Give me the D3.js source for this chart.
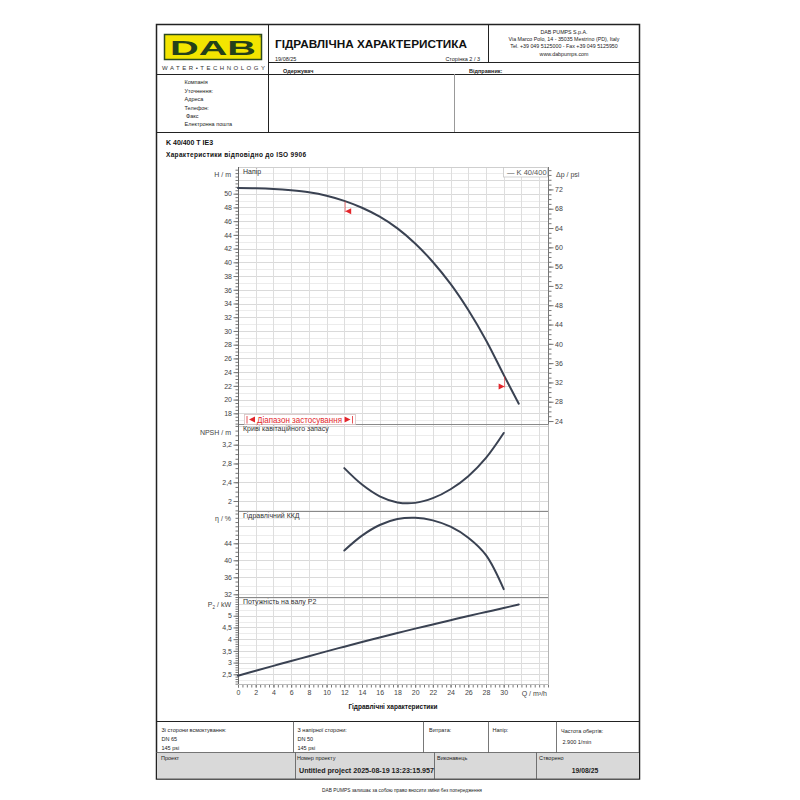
<!DOCTYPE html>
<html>
<head>
<meta charset="utf-8">
<script src="https://cdn.jsdelivr.net/npm/d3@7"></script>
<style>
  body { margin: 0; background: #fff; }
  svg text { font-family: "Liberation Sans", Arial, sans-serif; }
</style>
</head>
<body>
<div id="sheet"></div>
<script>
// ---- data ----
const qTicks = [0, 2, 4, 6, 8, 10, 12, 14, 16, 18, 20, 22, 24, 26, 28, 30];

// head + shaft power, full curve
const qFull = [0, 2, 4, 6, 8, 10, 12, 14, 16, 18, 20, 22, 24, 26, 28, 30, 31.7];
const headM = [50.83, 50.8, 50.7, 50.5, 50.2, 49.7, 48.95, 47.95, 46.65, 44.95, 42.75, 40.05, 36.85, 33.05, 28.65, 23.6, 19.4];
const powerKW = [2.44, 2.65, 2.86, 3.07, 3.27, 3.48, 3.68, 3.88, 4.07, 4.26, 4.45, 4.63, 4.81, 4.99, 5.16, 5.33, 5.48];

// NPSH + efficiency, only inside the application range
const qRange = [12, 14, 16, 18, 20, 22, 24, 26, 28, 30];
const npshM = [2.70, 2.35, 2.10, 1.97, 1.96, 2.06, 2.25, 2.53, 2.92, 3.45];
const effPct = [42.3, 45.8, 48.3, 49.7, 50.0, 49.4, 47.9, 45.3, 41.2, 33.2];

const appRange = [12.1, 30.1];

const headTicks = [18, 20, 22, 24, 26, 28, 30, 32, 34, 36, 38, 40, 42, 44, 46, 48, 50];
const psiTicks = [24, 28, 32, 36, 40, 44, 48, 52, 56, 60, 64, 68, 72];
const npshTicks = [2, 2.4, 2.8, 3.2];
const effTicks = [32, 36, 40, 44];
const powerTicks = [2.5, 3, 3.5, 4, 4.5, 5];

const M_TO_PSI = 1.4223;

const svg = d3.select('#sheet')
  .append('svg')
  .attr('width', 800)
  .attr('height', 800);

svg.append('rect').attr('width', 800).attr('height', 800).attr('fill', '#fff');

function label(g, x, y, str, o = {}) {
  return g.append('text')
    .attr('x', x).attr('y', y)
    .attr('font-size', o.size || 5.5)
    .attr('font-weight', o.bold ? 'bold' : null)
    .attr('text-anchor', o.anchor || 'start')
    .attr('fill', o.color || '#222')
    .text(str);
}

function hline(g, x1, x2, y, color, w) {
  g.append('line').attr('x1', x1).attr('x2', x2).attr('y1', y).attr('y2', y)
    .attr('stroke', color || '#222').attr('stroke-width', w || 1);
}
function vline(g, x, y1, y2, color, w) {
  g.append('line').attr('x1', x).attr('x2', x).attr('y1', y1).attr('y2', y2)
    .attr('stroke', color || '#222').attr('stroke-width', w || 1);
}

// ---- page frame + header ----
const page = svg.append('g');
page.append('rect')
  .attr('x', 156.5).attr('y', 24.5).attr('width', 483).attr('height', 754.5)
  .attr('fill', 'none').attr('stroke', '#222').attr('stroke-width', 1.5);

hline(page, 268, 639, 62.5);
hline(page, 156, 639, 74.5);
hline(page, 156, 639, 132.5);
vline(page, 268.5, 24, 132);
vline(page, 488.5, 24, 62);
vline(page, 454.5, 74, 132, '#999');

// logo
page.append('rect')
  .attr('x', 164.5).attr('y', 34.5).attr('width', 97).attr('height', 25)
  .attr('fill', '#f3e500').attr('stroke', '#2c4a1e').attr('stroke-width', 1.5);
label(page, 213, 55, 'DAB', { size: 20, bold: true, anchor: 'middle', color: '#24401a' })
  .attr('font-family', '"DejaVu Sans", sans-serif')
  .attr('textLength', 86).attr('lengthAdjust', 'spacingAndGlyphs');
label(page, 259, 38, '®', { size: 3.5, color: '#24401a' });
label(page, 162, 69.5, 'WATER•TECHNOLOGY', { size: 6, color: '#333' })
  .attr('textLength', 103).attr('lengthAdjust', 'spacing');

label(page, 275, 48, 'ГІДРАВЛІЧНА ХАРАКТЕРИСТИКА', { size: 11, bold: true, color: '#111' })
  .attr('textLength', 192).attr('lengthAdjust', 'spacingAndGlyphs');
label(page, 275, 60.5, '19/08/25', { size: 5.5 });
label(page, 480, 60.5, 'Сторінка 2 / 3', { size: 5.5, anchor: 'end' });

const addr = ['DAB PUMPS S.p.A.', 'Via Marco Polo, 14 - 35035 Mestrino (PD), Italy',
  'Tel. +39 049 5125000 - Fax +39 049 5125950', 'www.dabpumps.com'];
addr.forEach((s, i) => label(page, 564, 33.5 + i * 7.4, s, { size: 5.3, anchor: 'middle' }));

label(page, 283, 73, 'Одержувач', { size: 5.5, bold: true });
label(page, 469, 73, 'Відправник:', { size: 5.5, bold: true });

const contact = ['Компанія', 'Уточнення:', 'Адреса', 'Телефон:', 'Факс', 'Електронна пошта'];
const contactY = [84, 92.5, 101, 109.5, 117.5, 125.5];
contact.forEach((s, i) => label(page, i === 4 ? 186 : 184.5, contactY[i], s, { size: 5.5 }));

// ---- chart titles ----
label(page, 166, 145, 'K 40/400 T IE3', { size: 7, bold: true, color: '#111' });
label(page, 166, 156.5, 'Характеристики відповідно до ISO 9906', { size: 6.5, bold: true, color: '#111' })
  .attr('textLength', 140).attr('lengthAdjust', 'spacing');

// ---- scales ----
const x = d3.scaleLinear().domain([0, 35]).range([238, 548]);
const yH = d3.scaleLinear().domain([16.37, 53.89]).range([424.5, 167]);
const yPsi = d3.scaleLinear().domain(yH.domain().map(v => v * M_TO_PSI)).range(yH.range());
const yN = d3.scaleLinear().domain([1.787, 3.63]).range([511, 424.5]);
const yE = d3.scaleLinear().domain([31.36, 51.6]).range([597, 511]);
const yP = d3.scaleLinear().domain([2.086, 5.80]).range([684, 597]);

const fmt = d => String(+d.toFixed(2)).replace('.', ',');
const stepsIn = (dom, step) => {
  const lo = Math.ceil(dom[0] / step - 1e-6), hi = Math.floor(dom[1] / step + 1e-6);
  return d3.range(lo, hi + 1).map(k => +(k * step).toFixed(4));
};

const panels = [
  { y: yH, ticks: headTicks, tickStep: 0.5, minor: 1, major: 2, title: 'Напір' },
  { y: yN, ticks: npshTicks, tickStep: 0.1, minor: 0.2, major: 0.4, title: 'Криві кавітаційного запасу' },
  { y: yE, ticks: effTicks, tickStep: 1, minor: 2, major: 4, title: 'Гідравлічний ККД' },
  { y: yP, ticks: powerTicks, tickStep: 0.1, minor: 0.25, major: 0.5, title: 'Потужність на валу  P2' }
];

const plot = svg.append('g');

// grid
panels.forEach(p => {
  stepsIn(p.y.domain(), p.minor).forEach(v => {
    const isMajor = Math.abs(v / p.major - Math.round(v / p.major)) < 1e-6;
    hline(plot, x(0), x(35), Math.round(p.y(v)) + 0.5, isMajor ? '#dadada' : '#ececec');
  });
});
stepsIn([0, 35], 2).forEach(q => {
  vline(plot, Math.round(x(q)) + 0.5, 167, 684, '#dedede');
});

// panel borders
hline(plot, 238, 548, 167.5, '#cfcfcf');
hline(plot, 238, 548, 424.5, '#8a8a8a');
hline(plot, 238, 548, 511.5, '#8a8a8a');
hline(plot, 238, 548, 597.5, '#8a8a8a');
vline(plot, 548.5, 167, 684, '#b5b5b5');

const styleAxis = (g) => {
  g.select('.domain').remove();
  g.selectAll('line').attr('stroke', '#777');
  g.selectAll('text').attr('font-size', 7).attr('fill', '#444')
    .attr('font-family', '"Liberation Sans", Arial, sans-serif');
};

// left axes, one per panel
panels.forEach(p => {
  plot.append('g')
    .attr('transform', 'translate(238.5,0)')
    .call(d3.axisLeft(p.y).tickValues(stepsIn(p.y.domain(), p.tickStep)).tickSize(3).tickFormat(''))
    .call(styleAxis);
  plot.append('g')
    .attr('transform', 'translate(238.5,0)')
    .call(d3.axisLeft(p.y).tickValues(p.ticks).tickSize(5).tickPadding(1.5).tickFormat(fmt))
    .call(styleAxis);
  label(plot, 243, p.y.range()[1] + 6.5, p.title, { size: 7, color: '#333' });
});
vline(plot, 238.5, 167, 684, '#666');

// axis unit labels
label(plot, 231, 176.5, 'H / m', { size: 7, anchor: 'end', color: '#444' });
label(plot, 231, 434.5, 'NPSH / m', { size: 7, anchor: 'end', color: '#444' });
label(plot, 231, 521, 'η / %', { size: 7, anchor: 'end', color: '#444' });
const pLab = label(plot, 231, 607, '', { size: 7, anchor: 'end', color: '#444' });
pLab.append('tspan').text('P');
pLab.append('tspan').attr('font-size', 4.5).attr('dy', 1.5).text('2');
pLab.append('tspan').attr('dy', -1.5).text(' / kW');

// right axis (psi)
plot.append('g')
  .attr('transform', 'translate(548.5,0)')
  .call(d3.axisRight(yPsi).tickValues(stepsIn(yPsi.domain(), 1)).tickSize(3).tickFormat(''))
  .call(styleAxis);
plot.append('g')
  .attr('transform', 'translate(548.5,0)')
  .call(d3.axisRight(yPsi).tickValues(psiTicks).tickSize(5).tickPadding(1.5).tickFormat(fmt))
  .call(styleAxis);
vline(plot, 548.5, 167, 424.5, '#777');
label(plot, 556, 176.5, 'Δp / psi', { size: 7, color: '#444' });

// bottom axis
plot.append('g')
  .attr('transform', 'translate(0,684.5)')
  .call(d3.axisBottom(x).tickValues(stepsIn([0, 35], 0.5)).tickSize(3).tickFormat(''))
  .call(styleAxis);
plot.append('g')
  .attr('transform', 'translate(0,684.5)')
  .call(d3.axisBottom(x).tickValues(qTicks).tickSize(3).tickPadding(3).tickFormat(fmt))
  .call(styleAxis);
hline(plot, 238, 548, 684.5, '#bbb');
label(plot, 547, 695.5, 'Q / m³/h', { size: 7, anchor: 'end', color: '#444' });
label(plot, 393, 709, 'Гідравлічні характеристики', { size: 6.5, bold: true, anchor: 'middle', color: '#111' });

// ---- curves ----
const curveColor = '#3a4252';
const drawCurve = (qs, vs, y) => {
  plot.append('path')
    .datum(d3.zip(qs, vs))
    .attr('d', d3.line().x(d => x(d[0])).y(d => y(d[1])).curve(d3.curveCatmullRom.alpha(0.5)))
    .attr('fill', 'none')
    .attr('stroke', curveColor)
    .attr('stroke-width', 2)
    .attr('stroke-linecap', 'round');
};
drawCurve(qFull, headM, yH);
drawCurve(qRange, npshM, yN);
drawCurve(qRange, effPct, yE);
drawCurve(qFull, powerKW, yP);

// application range markers on the head curve
const headAt = d3.scaleLinear().domain(qFull).range(headM);
appRange.forEach((q, i) => {
  const px = x(q), top = yH(headAt(q)), bot = top + 10;
  vline(plot, px, top, bot + 1, '#e3262b', 0.6);
  const dir = i === 0 ? 1 : -1;
  plot.append('path')
    .attr('d', `M${px},${bot} L${px + dir * 6},${bot - 3} L${px + dir * 6},${bot + 3} Z`)
    .attr('fill', '#e3262b');
});

// application range legend
const leg = plot.append('g');
leg.append('rect').attr('x', 244.5).attr('y', 414.5).attr('width', 111).attr('height', 10)
  .attr('fill', '#fff').attr('stroke', '#d8c0c0').attr('stroke-width', 0.8);
vline(leg, 247, 416, 423.5, '#e3262b', 0.8);
vline(leg, 352.5, 416, 423.5, '#e3262b', 0.8);
leg.append('path').attr('d', 'M249,419.5 L255,416.5 L255,422.5 Z').attr('fill', '#e3262b');
leg.append('path').attr('d', 'M350.5,419.5 L344.5,416.5 L344.5,422.5 Z').attr('fill', '#e3262b');
label(leg, 257, 422.5, 'Діапазон застосування', { size: 9, color: '#e3262b' })
  .attr('textLength', 85).attr('lengthAdjust', 'spacingAndGlyphs');

// series legend
plot.append('rect').attr('x', 503.5).attr('y', 167.5).attr('width', 44).attr('height', 9.5)
  .attr('fill', '#fff').attr('stroke', '#c8c8c8').attr('stroke-width', 0.8);
label(plot, 507, 175, '— K 40/400', { size: 7.5, color: '#555' });

// ---- bottom table ----
const tbl = svg.append('g');
hline(tbl, 156, 639, 721.5, '#222', 1.2);
tbl.append('rect').attr('x', 157).attr('y', 752.5).attr('width', 482).attr('height', 26).attr('fill', '#d9d9d9');
hline(tbl, 156, 639, 752.5, '#555', 0.8);
[293.5, 423.5, 488.5, 556.5].forEach(v => vline(tbl, v, 721.5, 752.5, '#555', 0.8));
[295.5, 434.5, 536.5].forEach(v => vline(tbl, v, 752.5, 779, '#555', 0.8));

label(tbl, 161.5, 731.5, 'Зі сторони всмоктування:');
label(tbl, 161.5, 740.5, 'DN 65');
label(tbl, 161.5, 749.5, '145 psi');
label(tbl, 297.5, 731.5, 'З напірної сторони:');
label(tbl, 297.5, 740.5, 'DN 50');
label(tbl, 297.5, 749.5, '145 psi');
label(tbl, 429, 731.5, 'Витрата:');
label(tbl, 492.5, 731.5, 'Напір:');
label(tbl, 561, 733, 'Частота обертів:');
label(tbl, 562.5, 744, '2.900 1/min');

label(tbl, 161, 759.5, 'Проект');
label(tbl, 297, 759.5, 'Номер проекту');
label(tbl, 299, 772.5, 'Untitled project 2025-08-19 13:23:15.957', { size: 6.8, bold: true })
  .attr('textLength', 135).attr('lengthAdjust', 'spacingAndGlyphs');
label(tbl, 437, 759.5, 'Виконавець');
label(tbl, 539, 759.5, 'Створено');
label(tbl, 585, 772.5, '19/08/25', { size: 6.8, bold: true, anchor: 'middle' });

label(svg, 402, 792, 'DAB PUMPS залишає за собою право вносити зміни без попередження', { size: 4.8, anchor: 'middle' });
</script>
</body>
</html>
